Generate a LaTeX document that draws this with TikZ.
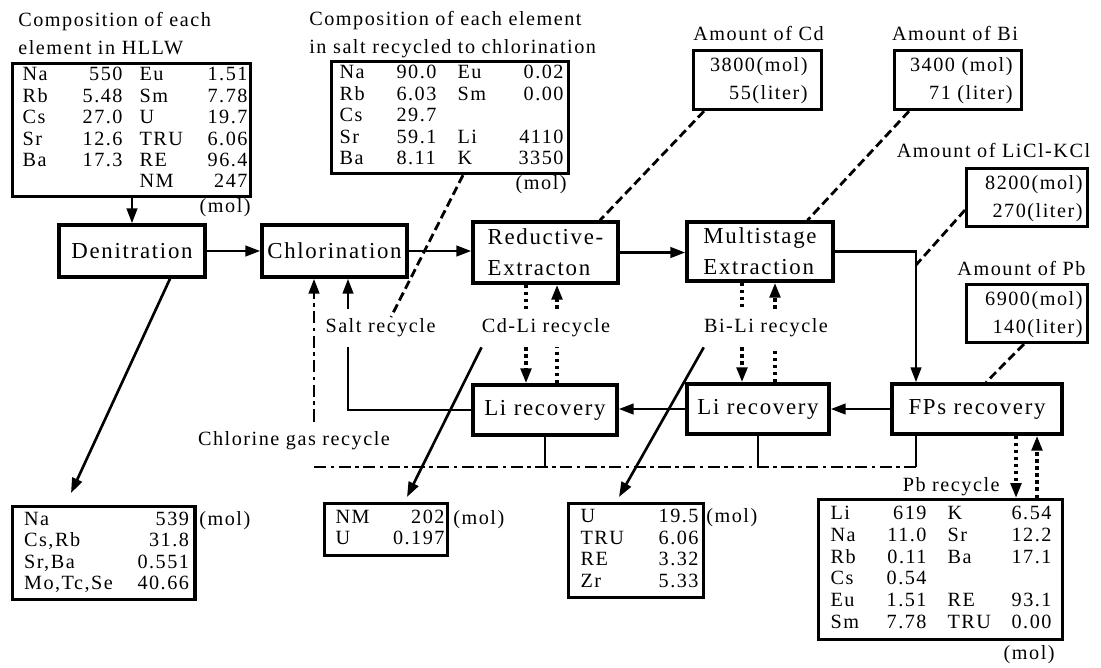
\documentclass[tikz,border=0pt]{standalone}
\usepackage{fontspec}
\setmainfont{Liberation Serif}[LetterSpace=7.5]
\usepackage{array}
\usetikzlibrary{positioning,calc,arrows.meta}
\newcolumntype{L}[1]{>{\raggedright\arraybackslash}p{#1}}
\newcolumntype{R}[1]{>{\raggedleft\arraybackslash}p{#1}}
\setlength{\tabcolsep}{0pt}
\tikzset{
	proc/.style={draw, line width=2pt, inner sep=0pt, font=\fontsize{13}{17.5}\selectfont},
	tbl/.style={draw, line width=1.8pt, inner sep=0pt, anchor=north west, font=\fontsize{11.5}{12.2}\selectfont},
	amt/.style={tbl, font=\fontsize{11.5}{16}\selectfont},
	lbl/.style={inner sep=0pt, font=\fontsize{11.5}{16}\selectfont},
	rlbl/.style={lbl, minimum height=0.76cm},
	tipend/.style={-{Triangle[length=8.5pt,width=6pt]}},
	conn/.style={line width=1.5pt},
	flowarrow/.style={conn, tipend},
	dotline/.style={line width=2pt, dash pattern=on 2pt off 2pt},
	dashline/.style={line width=1.6pt, dash pattern=on 5pt off 2.5pt},
	dashdotline/.style={line width=1.6pt, dash pattern=on 7pt off 2.5pt on 2pt off 2.5pt}
}

\begin{document}
\begin{tikzpicture}[x=0.02cm, y=-0.02cm]
		\useasboundingbox (0,0) rectangle (1101,667);

		\node[proc, minimum width=2.92cm, minimum height=1.04cm] (denit) at (132,251) {Denitration};
		\node[proc, minimum width=2.9cm, minimum height=1.04cm] (chlor) at (334.5,251) {Chlorination};
		\node[proc, minimum width=2.9cm, minimum height=1.22cm, align=left] (reduct) at (545.5,252.5) {Reductive-\\Extracton};
		\node[proc, minimum width=2.92cm, minimum height=1.18cm, align=left] (multi) at (760,251.5) {Multistage\\Extraction};
		\node[proc, minimum width=2.88cm, minimum height=1cm] (lirecA) at (545,410) {Li recovery};
		\node[proc, minimum width=2.84cm, minimum height=1cm] (lirecB) at (758,409) {Li recovery};
		\node[proc, minimum width=3.4cm, minimum height=1cm] (fps) at (977,409) {FPs recovery};

		\node[lbl, anchor=north west, align=left] (hllwttl) at (18,12) {Composition of each\\element in HLLW};
		\node[tbl, minimum width=4.77cm, minimum height=2.66cm] (hllw) at (10.5,62) {%
			\begin{tabular}{@{\hspace{0.21cm}}L{0.94cm}R{1.06cm}@{\hspace{0.34cm}}L{0.96cm}R{1.2cm}@{\hspace{0.06cm}}}
				Na & 550 & Eu & 1.51\\
				Rb & 5.48 & Sm & 7.78\\
				Cs & 27.0 & U & 19.7\\
				Sr & 12.6 & TRU & 6.06\\
				Ba & 17.3 & RE & 96.4\\
				& & NM & 247
			\end{tabular}};
		\node[lbl, anchor=east] (hllwmol) at (251,208) {(mol)};

		\node[lbl, anchor=north west, align=left] (saltttl) at (309,11) {Composition of each element\\in salt recycled to chlorination};
		\node[tbl, minimum width=4.74cm, minimum height=2.24cm] (salt) at (330,60) {%
			\begin{tabular}{@{\hspace{0.16cm}}L{1.14cm}L{1.22cm}L{0.88cm}R{1.24cm}@{\hspace{0.1cm}}}
				Na & 90.0 & Eu & 0.02\\
				Rb & 6.03 & Sm & 0.00\\
				Cs & 29.7 & & \\
				Sr & 59.1 & Li & 4110\\
				Ba & 8.11 & K & 3350
			\end{tabular}};
		\node[lbl, anchor=east] (saltmol) at (567,185) {(mol)};

		\node[lbl] (cdttl) at (758.5,33) {Amount of Cd};
		\node[amt, minimum width=2.56cm, minimum height=1.18cm] (cd) at (692,49) {%
			\begin{tabular}{@{}R{2.28cm}@{\hspace{0.28cm}}}
				3800(mol)\\
				55(liter)
			\end{tabular}};
		\node[lbl] (bittl) at (955,33) {Amount of Bi};
		\node[amt, minimum width=2.54cm, minimum height=1.18cm] (bi) at (893,49) {%
			\begin{tabular}{@{}R{2.36cm}@{\hspace{0.18cm}}}
				3400 (mol)\\
				71 (liter)
			\end{tabular}};
		\node[lbl] (liclttl) at (993.5,150) {Amount of LiCl-KCl};
		\node[amt, minimum width=2.42cm, minimum height=1.16cm] (licl) at (965,167) {%
			\begin{tabular}{@{}R{2.32cm}@{\hspace{0.1cm}}}
				8200(mol)\\
				270(liter)
			\end{tabular}};
		\node[lbl] (pbttl) at (1021.5,268) {Amount of Pb};
		\node[amt, minimum width=2.42cm, minimum height=1.16cm] (pb) at (965,283) {%
			\begin{tabular}{@{}R{2.32cm}@{\hspace{0.1cm}}}
				6900(mol)\\
				140(liter)
			\end{tabular}};

		\node[tbl, minimum width=3.66cm, minimum height=1.86cm] (out1) at (10.5,505) {%
			\begin{tabular}{@{\hspace{0.24cm}}L{1.9cm}R{1.4cm}@{\hspace{0.12cm}}}
				Na & 539\\
				Cs,Rb & 31.8\\
				Sr,Ba & 0.551\\
				Mo,Tc,Se & 40.66
			\end{tabular}};
		\node[lbl, anchor=west] (out1mol) at (199,521) {(mol)};
		\node[tbl, minimum width=2.46cm, minimum height=1.04cm] (nmout) at (323,502) {%
			\begin{tabular}{@{\hspace{0.22cm}}L{0.92cm}R{1.26cm}@{\hspace{0.06cm}}}
				NM & 202\\
				U & 0.197
			\end{tabular}};
		\node[lbl, anchor=west] (nmmol) at (453,520) {(mol)};
		\node[tbl, minimum width=2.7cm, minimum height=1.88cm] (uout) at (567,502) {%
			\begin{tabular}{@{\hspace{0.24cm}}L{1.22cm}R{1.14cm}@{\hspace{0.1cm}}}
				U & 19.5\\
				TRU & 6.06\\
				RE & 3.32\\
				Zr & 5.33
			\end{tabular}};
		\node[lbl, anchor=west] (umol) at (706,518) {(mol)};
		\node[tbl, minimum width=4.88cm, minimum height=2.8cm, font=\fontsize{11.5}{12.4}\selectfont] (pbout) at (817,498) {%
			\begin{tabular}{@{\hspace{0.24cm}}L{0.92cm}R{1.0cm}@{\hspace{0.42cm}}L{0.98cm}R{1.1cm}@{\hspace{0.22cm}}}
				Li & 619 & K & 6.54\\
				Na & 11.0 & Sr & 12.2\\
				Rb & 0.11 & Ba & 17.1\\
				Cs & 0.54 & & \\
				Eu & 1.51 & RE & 93.1\\
				Sm & 7.78 & TRU & 0.00
			\end{tabular}};
		\node[lbl, anchor=east] (pbmol) at (1055,655) {(mol)};

		\node[rlbl] (saltlbl) at (380.5,328) {Salt recycle};
		\node[rlbl] (cdlbl) at (546,328) {Cd-Li recycle};
		\node[rlbl] (bilbl) at (766,328) {Bi-Li recycle};
		\node[rlbl] (gaslbl) at (294,441) {Chlorine gas recycle};
		\node[lbl, anchor=east] (pblbl) at (1000,487) {Pb recycle};

		\coordinate (saltx) at (348,0);
		\coordinate (gasx) at (314,0);
		\coordinate (gasy) at (0,467);
		\coordinate (fpsx) at (916,0);
		\coordinate (cdx1) at (526,0);
		\coordinate (cdx2) at (557,0);
		\coordinate (bix1) at (742,0);
		\coordinate (bix2) at (775,0);
		\coordinate (pbx1) at (1016,0);
		\coordinate (pbx2) at (1037,0);
		\coordinate (denitx) at (170,0);
		\coordinate (out1in) at (71,493);
		\coordinate (nmin) at (407,497);
		\coordinate (uin) at (619,497);
		\coordinate (saltdsh) at (463,0);
		\coordinate (saltdshend) at (391,317);
		\coordinate (cddsh) at (704,0);
		\coordinate (cddshend) at (600,0);
		\coordinate (bidsh) at (909,0);
		\coordinate (bidshend) at (807.5,0);
		\coordinate (licldsh) at (965,210);
		\coordinate (licldshend) at (916,265);
		\coordinate (pbdsh) at (1024,0);
		\coordinate (pbdshend) at (986,0);

		\draw[flowarrow] (hllw.south -| denit.north) -- (denit.north);
		\draw[flowarrow] (denit.east) -- (chlor.west);
		\draw[flowarrow] (chlor.east) -- (chlor.east -| reduct.west);
		\draw[flowarrow] (reduct.east) -- (reduct.east -| multi.west);
		\draw[flowarrow] (multi.east) -| (fps.north -| fpsx);
		\draw[flowarrow] (fps.west) -- (lirecB.east);
		\draw[flowarrow] (lirecB.west) -- (lirecB.west -| lirecA.east);
		\draw[conn] (lirecA.west) -| (saltlbl.south -| saltx);
		\draw[flowarrow] (saltlbl.north -| saltx) -- (chlor.south -| saltx);

		\draw[dashdotline, tipend] (gaslbl.north -| gasx) -- (chlor.south -| gasx);
		\draw[dashdotline] (gasx |- gasy) -- (fpsx |- gasy);
		\draw[conn] (lirecA.south) -- (lirecA.south |- gasy);
		\draw[conn] (lirecB.south) -- (lirecB.south |- gasy);
		\draw[conn] (fps.south -| fpsx) -- (fpsx |- gasy);

		\draw[dotline] (reduct.south -| cdx1) -- (cdlbl.north -| cdx1);
		\draw[dotline, tipend] (cdlbl.south -| cdx1) -- (lirecA.north -| cdx1);
		\draw[dotline] (lirecA.north -| cdx2) -- (cdlbl.south -| cdx2);
		\draw[dotline, tipend] (cdlbl.north -| cdx2) -- (reduct.south -| cdx2);
		\draw[dotline] (multi.south -| bix1) -- (bilbl.north -| bix1);
		\draw[dotline, tipend] (bilbl.south -| bix1) -- (lirecB.north -| bix1);
		\draw[dotline] (lirecB.north -| bix2) -- (bilbl.south -| bix2);
		\draw[dotline, tipend] (bilbl.north -| bix2) -- (multi.south -| bix2);
		\draw[dotline, tipend] (fps.south -| pbx1) -- (pbout.north -| pbx1);
		\draw[dotline, tipend] (pbout.north -| pbx2) -- (fps.south -| pbx2);

		\draw[flowarrow] (denit.south -| denitx) -- (out1in);
		\draw[flowarrow] (cdlbl.south west) -- (nmin);
		\draw[flowarrow] (bilbl.south west) -- (uin);

		\draw[dashline] (salt.south -| saltdsh) -- (saltdshend);
		\draw[dashline] (cd.south -| cddsh) -- (reduct.north -| cddshend);
		\draw[dashline] (bi.south -| bidsh) -- (multi.north -| bidshend);
		\draw[dashline] (licldsh) -- (licldshend);
		\draw[dashline] (pb.south -| pbdsh) -- (fps.north -| pbdshend);
	\end{tikzpicture}
\end{document}
